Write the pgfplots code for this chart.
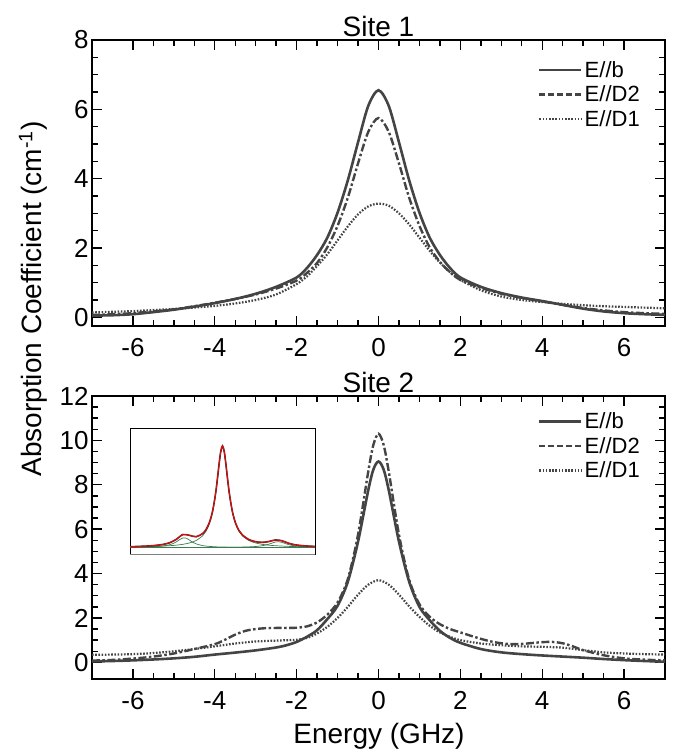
\documentclass[border=0pt]{standalone}
\usepackage{fontspec}
\setmainfont{Liberation Sans}
\usepackage{pgfplots}
\pgfplotsset{compat=1.18}

\definecolor{ln}{HTML}{444444}
\definecolor{fitgreen}{HTML}{3C7A50}

\pgfplotsset{
  site/.style={
    scale only axis, width=573pt,
    xmin=-7, xmax=7,
    xtick={-6,-4,...,6}, minor x tick num=3, minor y tick num=3,
    tick align=inside, major tick length=10pt, minor tick length=6pt,
    axis line style={line width=1.6pt}, tick style={line width=1.4pt, black},
    /pgf/number format/assume math mode=true,
    ticklabel style={font=\fontsize{26}{30}\selectfont},
    xticklabel style={yshift=-9pt},
    legend cell align=left,
    legend style={draw=none, fill=none, font=\fontsize{22}{26}\selectfont,
      anchor=north east, row sep=3pt},
    title style={font=\fontsize{28}{32}\selectfont, yshift=-6pt},
  },
  eb/.style={ln, line width=2.6pt, smooth,
    legend image code/.code={\draw[ln, line width=2.6pt] (0pt,0pt) -- (42pt,0pt);}},
  ed2/.style={ln, line width=2.4pt, smooth, dash pattern=on 8pt off 2.5pt on 2.5pt off 2.5pt,
    legend image code/.code={\draw[ln, line width=2.4pt, dash pattern=on 6pt off 3pt] (0pt,0pt) -- (42pt,0pt);}},
  ed1/.style={ln, line width=2.2pt, smooth, dash pattern=on 1.6pt off 1.6pt,
    legend image code/.code={\draw[ln, line width=2.2pt, dash pattern=on 1.6pt off 1.6pt] (0pt,0pt) -- (42pt,0pt);}},
}

\begin{document}
\begin{tikzpicture}[x=1pt,y=1pt]
\useasboundingbox (0,0) rectangle (674,751);

% Site 1
\begin{axis}[site, at={(92pt,425pt)}, anchor=south west, height=286pt,
  ymin=-0.25, ymax=8, ytick={0,2,4,6,8},
  title={Site 1},
  legend style={at={(0.965,0.94)}}]
\addplot[eb] coordinates {(-7,0.05) (-6.5,0.06) (-6,0.09) (-5.5,0.15) (-5,0.22) (-4.5,0.31) (-4,0.41) (-3.5,0.53) (-3,0.68) (-2.5,0.88) (-2,1.15) (-1.75,1.42) (-1.5,1.8) (-1.25,2.3) (-1,3.02) (-0.75,3.95) (-0.5,5.05) (-0.25,6.1) (0,6.55) (0.25,6.1) (0.5,5.05) (0.75,3.95) (1,3.02) (1.25,2.3) (1.5,1.8) (1.75,1.42) (2,1.15) (2.5,0.88) (3,0.7) (3.5,0.57) (4,0.47) (4.5,0.36) (5,0.25) (5.5,0.17) (6,0.12) (6.5,0.09) (7,0.07)};
\addlegendentry{E//b}
\addplot[ed2] coordinates {(-7,0.07) (-6.5,0.09) (-6,0.12) (-5.5,0.17) (-5,0.23) (-4.5,0.32) (-4,0.42) (-3.5,0.53) (-3,0.66) (-2.5,0.83) (-2,1.06) (-1.75,1.28) (-1.5,1.57) (-1.25,2.02) (-1,2.64) (-0.75,3.45) (-0.5,4.44) (-0.25,5.35) (0,5.75) (0.25,5.35) (0.5,4.44) (0.75,3.45) (1,2.64) (1.25,2.02) (1.5,1.6) (1.75,1.3) (2,1.08) (2.5,0.85) (3,0.68) (3.5,0.56) (4,0.46) (4.5,0.36) (5,0.27) (5.5,0.2) (6,0.15) (6.5,0.12) (7,0.1)};
\addlegendentry{E//D2}
\addplot[ed1] coordinates {(-7,0.14) (-6.5,0.16) (-6,0.18) (-5.5,0.21) (-5,0.24) (-4.5,0.28) (-4,0.33) (-3.5,0.4) (-3,0.5) (-2.5,0.66) (-2,0.96) (-1.75,1.18) (-1.5,1.48) (-1.25,1.82) (-1,2.22) (-0.75,2.62) (-0.5,2.97) (-0.25,3.2) (0,3.28) (0.25,3.22) (0.5,3.0) (0.75,2.68) (1,2.3) (1.25,1.92) (1.5,1.58) (1.75,1.3) (2,1.08) (2.5,0.78) (3,0.6) (3.5,0.5) (4,0.44) (4.5,0.39) (5,0.35) (5.5,0.32) (6,0.3) (6.5,0.28) (7,0.26)};
\addlegendentry{E//D1}
\end{axis}

% Site 2
\begin{axis}[site, at={(92pt,72pt)}, anchor=south west, height=283pt,
  ymin=-0.75, ymax=12, ytick={0,2,...,12},
  title={Site 2},
  legend style={at={(0.965,0.955)}}]
\addplot[eb] coordinates {(-7,0.04) (-6.5,0.06) (-6,0.09) (-5.5,0.13) (-5,0.18) (-4.5,0.25) (-4,0.35) (-3.5,0.44) (-3,0.54) (-2.5,0.67) (-2.25,0.77) (-2,0.92) (-1.75,1.15) (-1.5,1.45) (-1.25,1.95) (-1,2.55) (-0.75,3.63) (-0.5,5.44) (-0.25,7.76) (-0.125,8.69) (0,9.05) (0.125,8.69) (0.25,7.76) (0.5,5.44) (0.75,3.63) (1,2.5) (1.25,1.9) (1.5,1.42) (1.75,1.1) (2,0.88) (2.5,0.6) (3,0.45) (3.5,0.37) (4,0.31) (4.5,0.26) (5,0.21) (5.5,0.15) (6,0.1) (6.5,0.06) (7,0.03)};
\addlegendentry{E//b}
\addplot[ed2] coordinates {(-7,0.08) (-6.5,0.11) (-6,0.17) (-5.5,0.26) (-5,0.4) (-4.5,0.6) (-4,0.82) (-3.75,1.02) (-3.5,1.25) (-3.25,1.42) (-3,1.5) (-2.75,1.54) (-2.5,1.55) (-2.25,1.55) (-2,1.56) (-1.75,1.62) (-1.5,1.8) (-1.25,2.15) (-1,2.7) (-0.75,3.75) (-0.5,5.75) (-0.25,8.6) (-0.125,9.8) (0,10.3) (0.125,9.8) (0.25,8.6) (0.5,5.75) (0.75,3.72) (1,2.62) (1.25,2.05) (1.5,1.72) (1.75,1.5) (2,1.35) (2.25,1.2) (2.5,1.06) (2.75,0.94) (3,0.86) (3.25,0.82) (3.5,0.83) (3.75,0.87) (4,0.91) (4.25,0.92) (4.5,0.86) (4.75,0.72) (5,0.55) (5.5,0.32) (6,0.18) (6.5,0.12) (7,0.09)};
\addlegendentry{E//D2}
\addplot[ed1] coordinates {(-7,0.34) (-6.5,0.35) (-6,0.37) (-5.5,0.42) (-5,0.5) (-4.5,0.6) (-4,0.72) (-3.5,0.85) (-3,0.94) (-2.5,0.98) (-2,1.02) (-1.75,1.1) (-1.5,1.3) (-1.25,1.6) (-1,2.0) (-0.75,2.5) (-0.5,3.05) (-0.25,3.5) (0,3.7) (0.25,3.5) (0.5,3.05) (0.75,2.52) (1,2.05) (1.25,1.65) (1.5,1.35) (1.75,1.15) (2,1.0) (2.5,0.85) (3,0.77) (3.5,0.72) (4,0.7) (4.5,0.66) (5,0.55) (5.5,0.45) (6,0.4) (6.5,0.37) (7,0.35)};
\addlegendentry{E//D1}
\end{axis}

% inset: fit of E//D2, site 2
\begin{axis}[at={(130pt,196pt)}, anchor=south west, scale only axis,
  width=185pt, height=126pt, xmin=-7, xmax=7, ymin=-0.75, ymax=12,
  ticks=none, axis line style={line width=1pt}]
\addplot[fitgreen, line width=0.7pt] coordinates {(-7,0) (7,0)};
\addplot[fitgreen, line width=0.7pt, smooth] coordinates {(-7,0.062) (-6,0.085) (-5,0.122) (-4,0.19) (-3.5,0.245) (-3,0.33) (-2.5,0.47) (-2,0.71) (-1.5,1.2) (-1.25,1.65) (-1,2.37) (-0.75,3.57) (-0.5,5.59) (-0.25,8.46) (-0.125,9.7) (0,10.2) (0.125,9.7) (0.25,8.46) (0.5,5.59) (0.75,3.57) (1,2.37) (1.25,1.65) (1.5,1.2) (2,0.71) (2.5,0.47) (3,0.33) (3.5,0.245) (4,0.19) (5,0.122) (6,0.085) (7,0.062)};
\addplot[fitgreen, line width=0.7pt, smooth] coordinates {(-7,0.028) (-6.5,0.036) (-6,0.049) (-5.5,0.068) (-5,0.1) (-4.5,0.16) (-4,0.288) (-3.75,0.404) (-3.5,0.576) (-3.25,0.8) (-3,0.98) (-2.75,0.956) (-2.5,0.754) (-2.25,0.537) (-2,0.377) (-1.5,0.2) (-1,0.12) (-0.5,0.078) (0,0.055) (1,0.039) (2,0.029) (3,0.022) (4,0.018) (5,0.014) (6,0.012) (7,0.01)};
\addplot[fitgreen, line width=0.7pt, smooth] coordinates {(-7,0.003) (-5,0.006) (-3,0.011) (-1,0.02) (0,0.021) (1,0.033) (2,0.07) (2.5,0.109) (3,0.185) (3.5,0.34) (3.75,0.456) (4,0.565) (4.25,0.598) (4.5,0.526) (4.75,0.407) (5,0.3) (5.5,0.165) (6,0.099) (6.5,0.065) (7,0.045)};
\addplot[black!80, line width=1.6pt, smooth] coordinates {(-7,0.09) (-6.5,0.11) (-6,0.14) (-5.5,0.17) (-5,0.23) (-4.5,0.32) (-4,0.49) (-3.5,0.83) (-3,1.32) (-2.5,1.24) (-2,1.1) (-1.5,1.42) (-1.25,1.82) (-1,2.51) (-0.75,3.69) (-0.5,5.69) (-0.25,8.55) (-0.125,9.78) (0,10.28) (0.125,9.77) (0.25,8.53) (0.5,5.66) (0.75,3.64) (1,2.44) (1.25,1.72) (1.5,1.28) (2,0.81) (2.5,0.6) (3,0.53) (3.5,0.61) (4,0.77) (4.5,0.69) (5,0.44) (5.5,0.28) (6,0.2) (6.5,0.15) (7,0.12)};
\addplot[red, line width=0.9pt, smooth] coordinates {(-7,0.09) (-6.5,0.11) (-6,0.14) (-5.5,0.17) (-5,0.23) (-4.5,0.32) (-4,0.49) (-3.5,0.83) (-3,1.32) (-2.5,1.24) (-2,1.1) (-1.5,1.42) (-1.25,1.82) (-1,2.51) (-0.75,3.69) (-0.5,5.69) (-0.25,8.55) (-0.125,9.78) (0,10.28) (0.125,9.77) (0.25,8.53) (0.5,5.66) (0.75,3.64) (1,2.44) (1.25,1.72) (1.5,1.28) (2,0.81) (2.5,0.6) (3,0.53) (3.5,0.61) (4,0.77) (4.5,0.69) (5,0.44) (5.5,0.28) (6,0.2) (6.5,0.15) (7,0.12)};
\draw[gray, line width=2pt] (rel axis cs:0,0) -- (rel axis cs:1,0);
\end{axis}

\node[font=\fontsize{28}{32}\selectfont] at (379,15) {Energy (GHz)};
\node[rotate=90, font=\fontsize{28}{32}\selectfont] at (33,452) {Absorption Coefficient (cm\textsuperscript{-1})};
\end{tikzpicture}
\end{document}
